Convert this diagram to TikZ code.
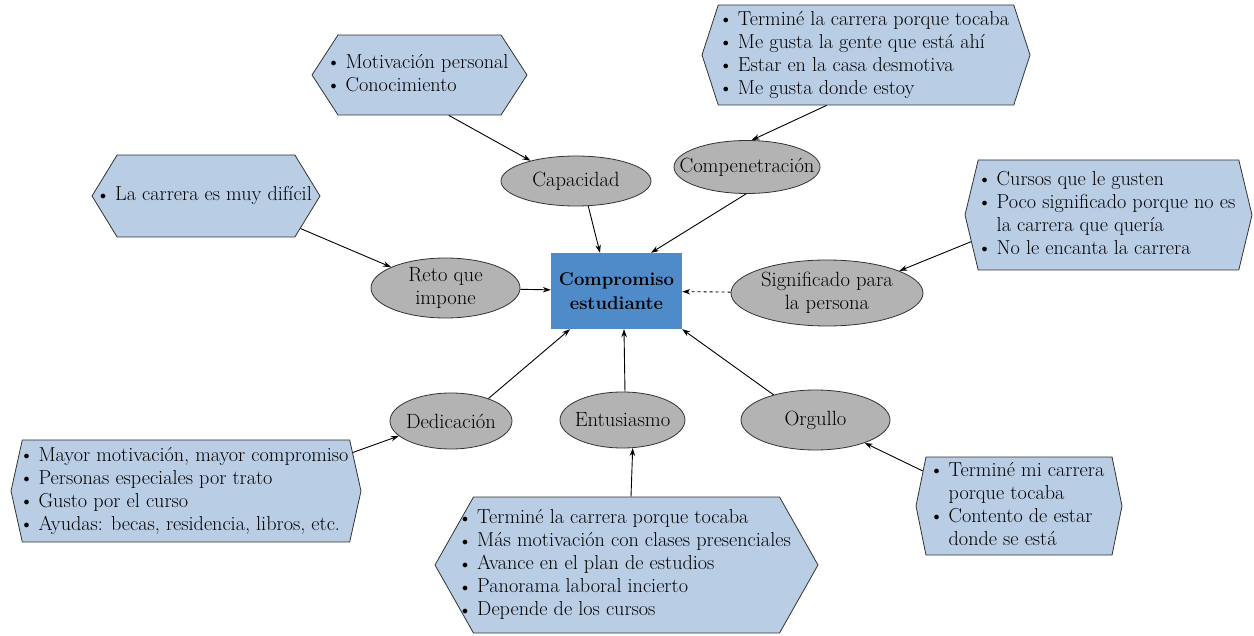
\documentclass[tikz,border=0pt]{standalone}
\usepackage{fontspec}
\usetikzlibrary{shapes.geometric,shapes.symbols,arrows.meta}
\definecolor{hexfill}{HTML}{B9CDE5}
\definecolor{ellfill}{HTML}{B3B3B3}
\definecolor{boxfill}{HTML}{4F8AC9}
\definecolor{edgecol}{HTML}{333333}
\newcommand{\itm}{\raisebox{1.5pt}{\fontsize{13}{13}\selectfont$\bullet$}&}
\newenvironment{blist}{\begin{tabular}{@{}l@{\hspace{9pt}}l@{}}}{\end{tabular}}
\begin{document}
\begin{tikzpicture}[x=1pt,y=-1pt,
  hexa/.style={signal, signal to=east and west, draw=edgecol, fill=hexfill,
    line width=0.8pt, inner xsep=-25pt, inner ysep=0pt, font=\fontsize{20.2}{23}\selectfont},
  ell/.style={ellipse, draw=edgecol, fill=ellfill, line width=0.8pt,
    inner xsep=-30pt, inner ysep=-10pt,
    align=center, font=\fontsize{20.6}{23}\selectfont},
  centralbox/.style={rectangle, fill=boxfill, inner sep=0pt, align=center,
    font=\fontsize{18.5}{24}\selectfont\bfseries},
  arr/.style={-{Stealth[length=8pt,width=5.5pt]}, line width=0.9pt, draw=black},
  darr/.style={arr, dashed}
]
\useasboundingbox (0,0) rectangle (1254,636);

% central box
\node[centralbox, minimum width=131pt, minimum height=76pt] (box) at (616.5,291) {Compromiso\\estudiante};

% ellipses
\node[ell, minimum width=150pt, minimum height=50pt] (cap) at (576,181) {Capacidad};
\node[ell, minimum width=146pt, minimum height=53pt] (cmp) at (747,167) {Compenetración};
\node[ell, minimum width=149pt, minimum height=60pt] (reto) at (445.5,288) {Reto que\\impone};
\node[ell, minimum width=192pt, minimum height=66pt] (sig) at (827,293) {Significado para\\la persona};
\node[ell, minimum width=122pt, minimum height=56pt] (ded) at (451,421) {Dedicación};
\node[ell, minimum width=125pt, minimum height=56pt] (ent) at (622.5,420) {Entusiasmo};
\node[ell, minimum width=149pt, minimum height=60pt] (org) at (815.5,420) {Orgullo};

% hexagons
\node[hexa, signal pointer angle=114, minimum width=215pt, minimum height=80pt] (mot) at (419.5,75)
  {\begin{blist}\itm Motivación personal\\ \itm Conocimiento\end{blist}};
\node[hexa, signal pointer angle=144, minimum width=328pt, minimum height=100pt] (top) at (866,55)
  {\begin{blist}\itm Terminé la carrera porque tocaba\\ \itm Me gusta la gente que está ahí\\ \itm Estar en la casa desmotiva\\ \itm Me gusta donde estoy\end{blist}};
\node[hexa, signal pointer angle=117, minimum width=228pt, minimum height=82pt] (dif) at (206,196)
  {\begin{blist}\itm La carrera es muy difícil\end{blist}};
\node[hexa, signal pointer angle=153, minimum width=287pt, minimum height=110pt] (cur) at (1108.5,215)
  {\begin{blist}\itm Cursos que le gusten\\ \itm Poco significado porque no es\\ & la carrera que quería\\ \itm No le encanta la carrera\end{blist}};
\node[hexa, signal pointer angle=155, minimum width=350pt, minimum height=102pt] (may) at (186,491)
  {\begin{blist}\itm Mayor motivación, mayor compromiso\\ \itm Personas especiales por trato\\ \itm Gusto por el curso\\ \itm Ayudas: becas, residencia, libros, etc.\end{blist}};
\node[hexa, signal pointer angle=121, minimum width=383pt, minimum height=136pt] (bot) at (626.5,565)
  {\begin{blist}\itm Terminé la carrera porque tocaba\\ \itm Más motivación con clases presenciales\\ \itm Avance en el plan de estudios\\ \itm Panorama laboral incierto\\ \itm Depende de los cursos\end{blist}};
\node[hexa, signal pointer angle=157, minimum width=206pt, minimum height=98pt] (tmi) at (1019,506)
  {\begin{blist}\itm Terminé mi carrera\\ & porque tocaba\\ \itm Contento de estar\\ & donde se está\end{blist}};

% connectors
\draw[arr] (mot.-54.5) -- (cap.156);
\draw[arr] (top.-128.7) -- (cmp.80);
\draw[arr] (dif.-19.5) -- (reto.159);
\draw[arr] (cur.191.4) -- (sig.17);
\draw[arr] (cap.-64) -- ([xshift=-16.5pt]box.north);
\draw[arr] (cmp.-92) -- ([xshift=34.5pt]box.north);
\draw[arr] (reto) -- (box);
\draw[darr] (sig) -- (box);
\draw[arr] (ded.31) -- ([xshift=-46.5pt]box.south);
\draw[arr] (ent.85) -- ([xshift=7.5pt]box.south);
\draw[arr] (org.149) -- (box.south east);
\draw[arr] (may.13.3) -- (ded.196);
\draw[arr] ([xshift=4.5pt]bot.north) -- (ent.-70);
\draw[arr] (tmi.160) -- (org.-25);
\end{tikzpicture}
\end{document}
